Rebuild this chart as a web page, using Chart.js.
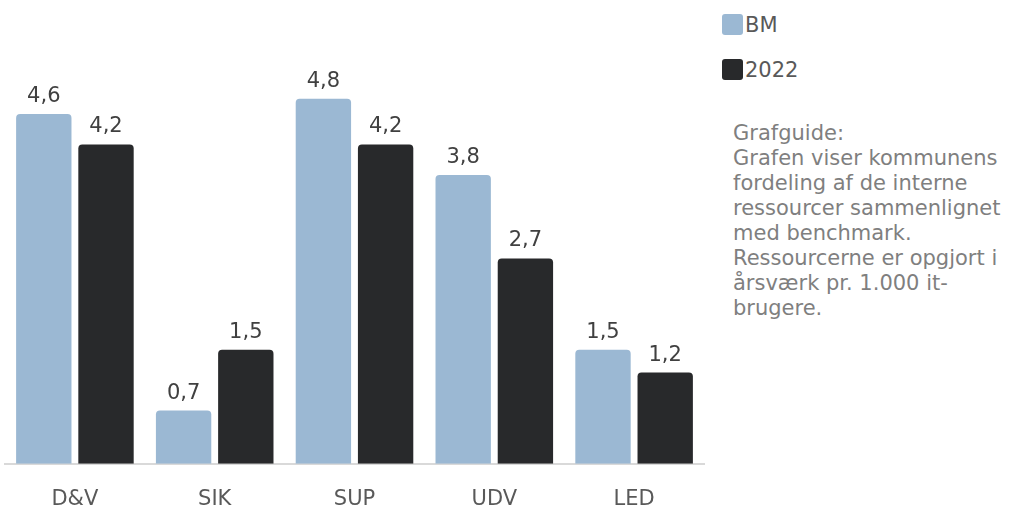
<!DOCTYPE html>
<html>
<head>
<meta charset="utf-8">
<script src="https://cdn.jsdelivr.net/npm/chart.js@4.4.1/dist/chart.umd.min.js"></script>
<style>
  html, body { margin: 0; padding: 0; background: #ffffff; }
  body { width: 1009px; height: 507px; position: relative; overflow: hidden; font-family: "DejaVu Sans", Verdana, sans-serif; }
  #wrap { position: absolute; left: 0; top: 0; width: 712px; height: 535px; }
  #legend { position: absolute; left: 722px; top: 12px; }
  .item { display: flex; align-items: center; height: 25px; margin-bottom: 20px; font-size: 21px; color: #595959; }
  .box { width: 21px; height: 21px; border-radius: 3px; margin-right: 2px; }
  #guide { position: absolute; left: 733px; top: 121px; font-size: 21px; line-height: 25px; color: #7f7f7f; white-space: nowrap; }
</style>
</head>
<body>
<div id="wrap"><canvas id="c" width="712" height="535"></canvas></div>
<div id="legend"></div>
<div id="guide"></div>
<script>
const categories = ["D&V", "SIK", "SUP", "UDV", "LED"];
const seriesNames = ["BM", "2022"];
const bmValues = [4.6, 0.7, 4.8, 3.8, 1.5];
const values2022 = [4.2, 1.5, 4.2, 2.7, 1.2];
const seriesColors = ["#9bb8d3", "#28292b"];
const guideLines = [
  "Grafguide:",
  "Grafen viser kommunens",
  "fordeling af de interne",
  "ressourcer sammenlignet",
  "med benchmark.",
  "Ressourcerne er opgjort i",
  "årsværk pr. 1.000 it-",
  "brugere."
];

const FONT = '"DejaVu Sans", Verdana, sans-serif';

const valueLabels = {
  id: 'valueLabels',
  afterDatasetsDraw(chart) {
    const ctx = chart.ctx;
    ctx.save();
    ctx.font = '21px ' + FONT;
    ctx.fillStyle = '#404040';
    ctx.textAlign = 'center';
    ctx.textBaseline = 'bottom';
    chart.data.datasets.forEach((ds, i) => {
      const meta = chart.getDatasetMeta(i);
      meta.data.forEach((bar, j) => {
        const v = ds.data[j];
        ctx.fillText(v.toFixed(1).replace('.', ','), bar.x, bar.y - 7);
      });
    });
    ctx.restore();
  }
};

const chart = new Chart(document.getElementById('c'), {
  type: 'bar',
  data: {
    labels: categories,
    datasets: [
      { label: seriesNames[0], data: bmValues, backgroundColor: seriesColors[0] },
      { label: seriesNames[1], data: values2022, backgroundColor: seriesColors[1] }
    ]
  },
  options: {
    responsive: false,
    animation: false,
    devicePixelRatio: 1,
    layout: { padding: { left: 5, right: 8, top: 0, bottom: 0 } },
    datasets: {
      bar: {
        categoryPercentage: 0.89,
        barPercentage: 0.89,
        borderRadius: { topLeft: 4, topRight: 4, bottomLeft: 0, bottomRight: 0 },
        borderSkipped: 'bottom'
      }
    },
    plugins: {
      legend: { display: false },
      tooltip: { enabled: false }
    },
    scales: {
      x: {
        grid: { display: false, drawTicks: false },
        border: { display: true, color: '#d9d9d9', width: 2 },
        ticks: { font: { family: FONT, size: 21 }, color: '#595959', padding: 23 }
      },
      y: {
        display: false,
        min: 0,
        max: 6.1
      }
    }
  },
  plugins: [valueLabels]
});

const legend = document.getElementById('legend');
chart.data.datasets.forEach(ds => {
  const item = document.createElement('div');
  item.className = 'item';
  const box = document.createElement('span');
  box.className = 'box';
  box.style.background = ds.backgroundColor;
  const txt = document.createElement('span');
  txt.textContent = ds.label;
  item.appendChild(box);
  item.appendChild(txt);
  legend.appendChild(item);
});

const guide = document.getElementById('guide');
guideLines.forEach(line => {
  const d = document.createElement('div');
  d.textContent = line;
  guide.appendChild(d);
});
</script>
</body>
</html>
